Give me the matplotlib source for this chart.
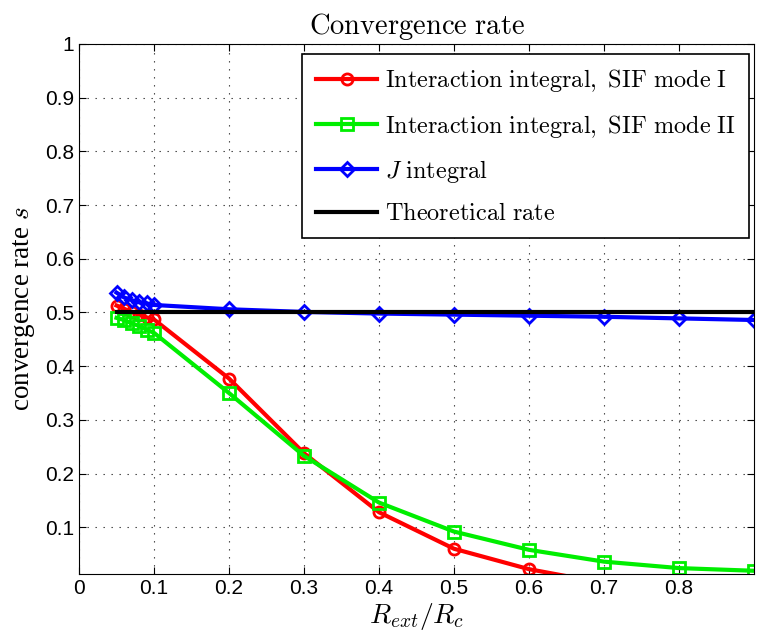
import numpy as np
import matplotlib
matplotlib.use("Agg")
import matplotlib.pyplot as plt

plt.rcParams['mathtext.fontset'] = 'cm'
plt.rcParams['font.family'] = ['Liberation Sans', 'DejaVu Sans']

# radio exterior / radio de corte
r_ext = [0.05, 0.06, 0.07, 0.08, 0.09, 0.1, 0.2, 0.3, 0.4, 0.5, 0.6, 0.7, 0.8, 0.9]
sif_modo1 = [0.513, 0.507, 0.501, 0.496, 0.491, 0.487, 0.377, 0.238, 0.128, 0.060, 0.022, -0.004, -0.01, -0.012]
sif_modo2 = [0.490, 0.486, 0.480, 0.475, 0.468, 0.462, 0.350, 0.233, 0.146, 0.092, 0.058, 0.036, 0.024, 0.019]
j_integral = [0.537, 0.528, 0.523, 0.519, 0.517, 0.514, 0.506, 0.501, 0.498, 0.496, 0.494, 0.492, 0.489, 0.486]
teorica = [0.5] * len(r_ext)

etiquetas = [r'$\mathrm{Interaction\ integral,\ SIF\ mode\ I}$',
             r'$\mathrm{Interaction\ integral,\ SIF\ mode\ II}$',
             r'$J\ \mathrm{integral}$',
             r'$\mathrm{Theoretical\ rate}$']

fig = plt.figure(figsize=(7.62, 6.44), dpi=100)
ax = fig.add_axes([0.1037, 0.1087, 0.8858, 0.823])

ax.plot(r_ext, sif_modo1, '-o', color='#ff0000', lw=3, ms=8, mfc='none', mew=2, label=etiquetas[0])
ax.plot(r_ext, sif_modo2, '-s', color='#00ee00', lw=3, ms=8, mfc='none', mew=2, label=etiquetas[1])
ax.plot(r_ext, j_integral, '-D', color='#0000ff', lw=3, ms=7.5, mfc='none', mew=2, label=etiquetas[2])
ax.plot(r_ext, teorica, '-', color='black', lw=3, label=etiquetas[3])

ax.set_xlim(0, 0.9)
ax.set_ylim(0.013, 1)
ax.set_xticks([0, 0.1, 0.2, 0.3, 0.4, 0.5, 0.6, 0.7, 0.8])
ax.set_xticklabels(['0', '0.1', '0.2', '0.3', '0.4', '0.5', '0.6', '0.7', '0.8'])
ax.set_yticks([0.1, 0.2, 0.3, 0.4, 0.5, 0.6, 0.7, 0.8, 0.9, 1])
ax.set_yticklabels(['0.1', '0.2', '0.3', '0.4', '0.5', '0.6', '0.7', '0.8', '0.9', '1'])
ax.tick_params(direction='in', top=True, right=True, labelsize=15, length=5)
ax.grid(True, linestyle=(0, (1.2, 6)), color='#333333', lw=0.8)

ax.set_title(r'$\mathrm{Convergence\ rate}$', fontsize=20.5, pad=7)
ax.set_xlabel(r'$R_{ext}/R_c$', fontsize=20, labelpad=2)
ax.set_ylabel(r'convergence rate $s$', family='Liberation Serif', fontsize=19.5, labelpad=6)

leg = ax.legend(loc='upper right', bbox_to_anchor=(0.9926, 0.981), borderaxespad=0,
                fontsize=17.5, fancybox=False, edgecolor='black', framealpha=1,
                handlelength=2.55, handletextpad=0.3, labelspacing=0.75, borderpad=0.55)
leg.get_frame().set_linewidth(1.2)

plt.savefig('out.png', dpi=100)
plt.close()
